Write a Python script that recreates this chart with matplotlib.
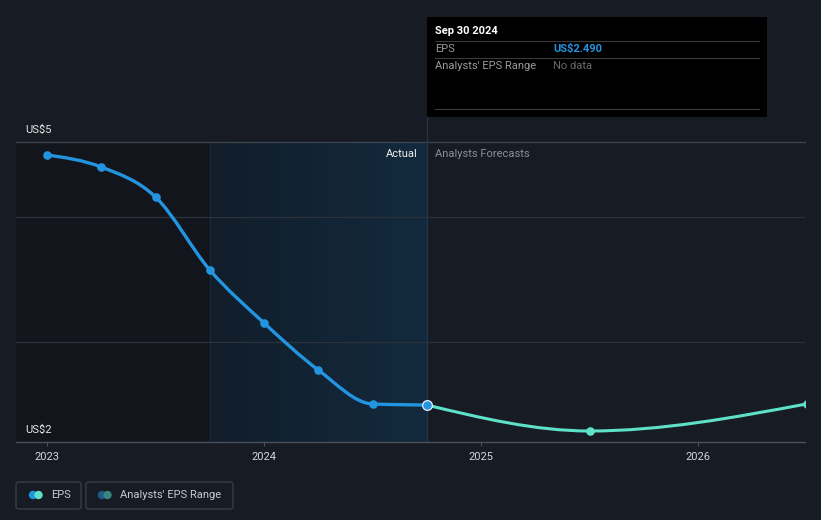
import matplotlib
matplotlib.use("Agg")
import matplotlib.pyplot as plt
import numpy as np
from matplotlib.path import Path
from matplotlib.patches import PathPatch, Rectangle, FancyBboxPatch, Ellipse
from matplotlib.colors import LinearSegmentedColormap

plt.rcParams["font.family"] = ["Roboto", "DejaVu Sans"]

# data (x in fractional years)
ACTUAL_X = [2023.0, 2023.25, 2023.5, 2023.75, 2024.0, 2024.25, 2024.5, 2024.75]
ACTUAL_EPS = [4.876, 4.761, 4.475, 3.779, 3.273, 2.824, 2.500, 2.490]
FORECAST_X = [2024.75, 2025.5, 2026.5]
FORECAST_EPS = [2.490, 2.242, 2.500]

YEAR_TICKS = [2023, 2024, 2025, 2026]
GRID_LEVELS = [4.284, 3.091]

X_MIN, X_MAX = 2022.857, 2026.493
Y_MIN, Y_MAX = 2.137, 5.0
PAST_START = 2023.75  # start of blue band
TODAY = 2024.75

BG = "#161b24"
BLUE = "#2394df"
TEAL = "#5ee0c9"
W, H = 821, 520


def monotone_path(xs, ys):
    # same bezier construction as d3.curveMonotoneX
    n = len(xs)
    xs = np.asarray(xs, float)
    ys = np.asarray(ys, float)
    t = np.zeros(n)
    for i in range(1, n - 1):
        h0, h1 = xs[i] - xs[i - 1], xs[i + 1] - xs[i]
        s0, s1 = (ys[i] - ys[i - 1]) / h0, (ys[i + 1] - ys[i]) / h1
        p = (s0 * h1 + s1 * h0) / (h0 + h1)
        t[i] = (np.sign(s0) + np.sign(s1)) * min(abs(s0), abs(s1), 0.5 * abs(p))
    if n > 2:
        t[0] = (3 * (ys[1] - ys[0]) / (xs[1] - xs[0]) - t[1]) / 2
        t[-1] = (3 * (ys[-1] - ys[-2]) / (xs[-1] - xs[-2]) - t[-2]) / 2
    else:
        t[:] = (ys[1] - ys[0]) / (xs[1] - xs[0])
    verts = [(xs[0], ys[0])]
    codes = [Path.MOVETO]
    for i in range(n - 1):
        dx = (xs[i + 1] - xs[i]) / 3
        verts += [(xs[i] + dx, ys[i] + dx * t[i]),
                  (xs[i + 1] - dx, ys[i + 1] - dx * t[i + 1]),
                  (xs[i + 1], ys[i + 1])]
        codes += [Path.CURVE4] * 3
    return Path(verts, codes)


def fx(px):
    return px / W


def fy(py):
    return 1 - py / H


fig = plt.figure(figsize=(8.21, 5.20), dpi=100, facecolor=BG)
ax = fig.add_axes([fx(16), fy(442), fx(805) - fx(16), fy(142) - fy(442)])
ax.set_facecolor(BG)
ax.set_xlim(X_MIN, X_MAX)
ax.set_ylim(Y_MIN, Y_MAX)

# shaded bands
ax.axvspan(X_MIN, PAST_START, color="#12161c", zorder=0, lw=0)
grad = np.linspace(0, 1, 256).reshape(1, -1)
cmap = LinearSegmentedColormap.from_list("band", ["#111d2a", "#132a3e"])
ax.imshow(grad, cmap=cmap, aspect="auto", extent=[PAST_START, TODAY, Y_MIN, Y_MAX],
          zorder=0.5, interpolation="bilinear")
ax.axvline(PAST_START, color="#1b2a38", lw=0.8, zorder=0.6)

# grid
for lvl in GRID_LEVELS:
    ax.axhline(lvl, color="#2c323b", lw=0.9, zorder=1)
ax.axhline(Y_MAX, color="#40464f", lw=0.9, zorder=1, clip_on=False)

# today line: inside the axes, plus the short piece up to the tooltip
ax.axvline(TODAY, color="#22364a", lw=0.9, zorder=2)
fig.add_artist(plt.Line2D([fx(427), fx(427)], [fy(117), fy(142)], color="#22364a",
                          lw=0.9, transform=fig.transFigure, zorder=2))

for side in ["top", "right", "left"]:
    ax.spines[side].set_visible(False)
ax.spines["bottom"].set_color("#4a4f58")
ax.spines["bottom"].set_linewidth(1.0)
ax.set_yticks([])
ax.set_xticks(YEAR_TICKS)
ax.set_xticklabels([str(y) for y in YEAR_TICKS])
ax.tick_params(axis="x", colors="#4a4f58", labelcolor="#d4d6d9", length=3, width=0.8,
               labelsize=8, pad=4)

# lines
ax.add_patch(PathPatch(monotone_path(FORECAST_X, FORECAST_EPS), fill=False,
                       edgecolor=TEAL, lw=2.2, zorder=3, capstyle="round"))
ax.add_patch(PathPatch(monotone_path(ACTUAL_X, ACTUAL_EPS), fill=False,
                       edgecolor=BLUE, lw=2.4, zorder=4, capstyle="round"))
ax.plot(ACTUAL_X[:-1], ACTUAL_EPS[:-1], "o", color=BLUE, ms=6.2, zorder=5, mew=0)
ax.plot(FORECAST_X[1:], FORECAST_EPS[1:], "o", color=TEAL, ms=6.2, zorder=5, mew=0)
ax.plot([ACTUAL_X[-1]], [ACTUAL_EPS[-1]], "o", color=BLUE, mec="#e8f2fb", mew=0.9,
        ms=7.0, zorder=6, clip_on=False)

fig.text(fx(418), fy(154), "Actual", ha="right", va="center", color="#f0f0f0", fontsize=8)
fig.text(fx(435), fy(154), "Analysts Forecasts", ha="left", va="center",
         color="#8b8f96", fontsize=8)

fig.text(fx(25), fy(130), "US$5", ha="left", va="center", color="#e6e6e6", fontsize=8)
fig.text(fx(25), fy(430), "US$2", ha="left", va="center", color="#e6e6e6", fontsize=8)

# tooltip
fig.add_artist(Rectangle((fx(427), fy(117)), fx(767) - fx(427), fy(17) - fy(117),
                         transform=fig.transFigure, facecolor="black", edgecolor="none",
                         zorder=8))
for py in [41, 58, 109]:
    fig.add_artist(plt.Line2D([fx(435), fx(759)], [fy(py), fy(py)], color="#3a3a3a",
                              lw=0.8, transform=fig.transFigure, zorder=9))
fig.text(fx(435), fy(31), "Sep 30 2024", color="white", fontsize=8, fontweight="bold",
         va="center", zorder=10)
fig.text(fx(435), fy(49), "EPS", color="#9a9a9a", fontsize=8, va="center", zorder=10)
fig.text(fx(553), fy(49), "US$2.490", color=BLUE, fontsize=8, fontweight="bold",
         va="center", zorder=10)
fig.text(fx(435), fy(66), "Analysts' EPS Range", color="#9a9a9a", fontsize=8,
         va="center", zorder=10)
fig.text(fx(553), fy(66), "No data", color="#6a6a6a", fontsize=8, va="center", zorder=10)

# legend boxes
for x0, x1 in [(16, 81), (86, 233)]:
    fig.add_artist(FancyBboxPatch((fx(x0), fy(509)), fx(x1) - fx(x0), fy(482) - fy(509),
                                  boxstyle="round,pad=0,rounding_size=0.004",
                                  transform=fig.transFigure, facecolor="none",
                                  edgecolor="#3b414b", lw=0.9))
for cx, col in [(33, BLUE), (38.5, TEAL), (102, "#1f5a85"), (107.5, "#3a8580")]:
    fig.add_artist(Ellipse((fx(cx), fy(495)), 8.4 / W, 8.4 / H,
                           transform=fig.transFigure, facecolor=col, edgecolor="none"))
fig.text(fx(51), fy(495), "EPS", color="#c8cacd", fontsize=8, va="center")
fig.text(fx(120), fy(495), "Analysts' EPS Range", color="#c8cacd", fontsize=8, va="center")

fig.savefig("out.png", dpi=100, facecolor=BG)
